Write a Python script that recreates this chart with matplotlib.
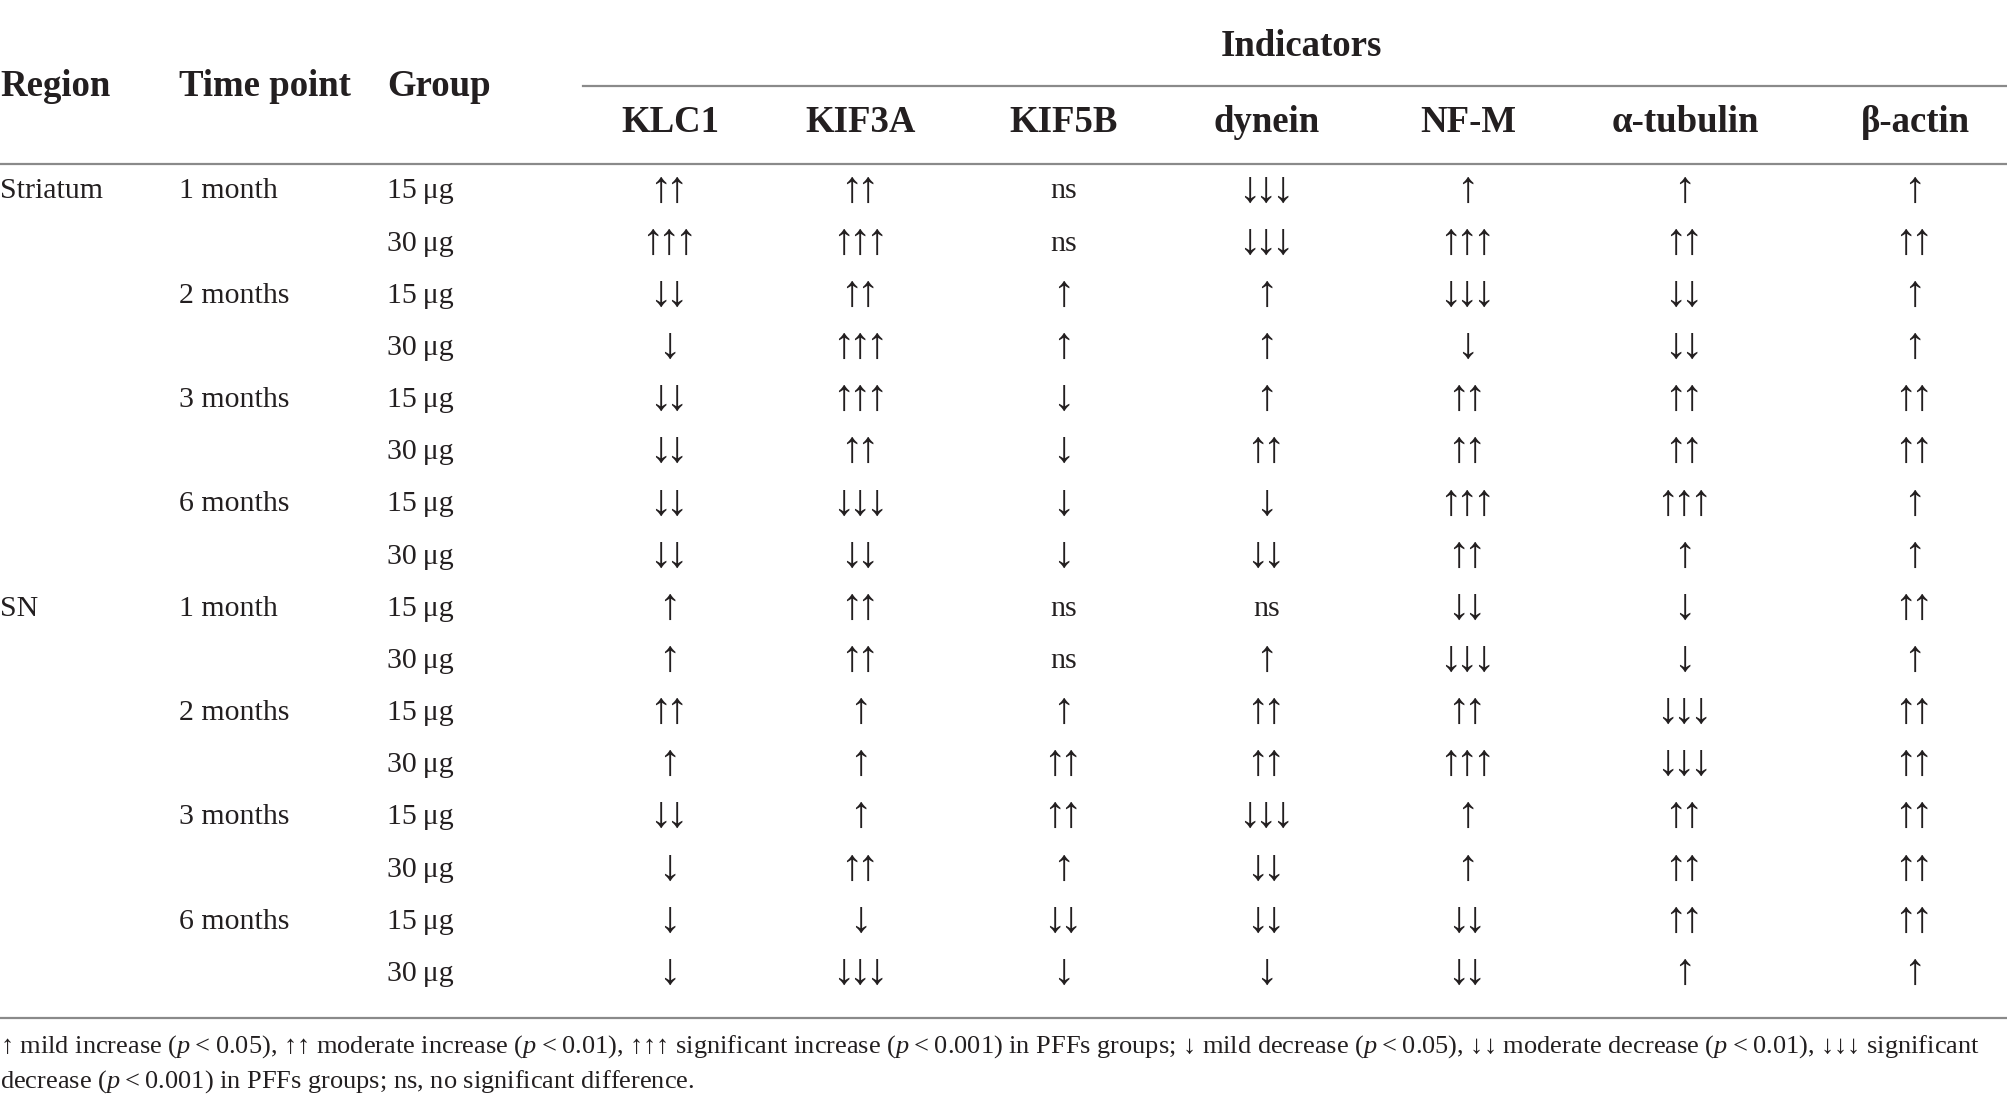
import matplotlib.pyplot as plt

plt.rcParams["font.family"] = ["Liberation Serif", "DejaVu Serif"]
plt.rcParams["mathtext.fontset"] = "custom"
plt.rcParams["mathtext.rm"] = "Liberation Serif"
plt.rcParams["mathtext.it"] = "Liberation Serif:italic"

# ---- table content ---------------------------------------------------------
indicators = ["KLC1", "KIF3A", "KIF5B", "dynein", "NF-M", "α-tubulin", "β-actin"]
regions = ["Striatum", "", "", "", "", "", "", "",
           "SN", "", "", "", "", "", "", ""]
time_points = ["1 month", "", "2 months", "", "3 months", "", "6 months", "",
               "1 month", "", "2 months", "", "3 months", "", "6 months", ""]
groups = ["15\u2009μg", "30\u2009μg"] * 8

klc1 = ["↑↑", "↑↑↑", "↓↓", "↓", "↓↓", "↓↓", "↓↓", "↓↓",
        "↑", "↑", "↑↑", "↑", "↓↓", "↓", "↓", "↓"]
kif3a = ["↑↑", "↑↑↑", "↑↑", "↑↑↑", "↑↑↑", "↑↑", "↓↓↓", "↓↓",
         "↑↑", "↑↑", "↑", "↑", "↑", "↑↑", "↓", "↓↓↓"]
kif5b = ["ns", "ns", "↑", "↑", "↓", "↓", "↓", "↓",
         "ns", "ns", "↑", "↑↑", "↑↑", "↑", "↓↓", "↓"]
dynein = ["↓↓↓", "↓↓↓", "↑", "↑", "↑", "↑↑", "↓", "↓↓",
          "ns", "↑", "↑↑", "↑↑", "↓↓↓", "↓↓", "↓↓", "↓"]
nfm = ["↑", "↑↑↑", "↓↓↓", "↓", "↑↑", "↑↑", "↑↑↑", "↑↑",
       "↓↓", "↓↓↓", "↑↑", "↑↑↑", "↑", "↑", "↓↓", "↓↓"]
a_tubulin = ["↑", "↑↑", "↓↓", "↓↓", "↑↑", "↑↑", "↑↑↑", "↑",
             "↓", "↓", "↓↓↓", "↓↓↓", "↑↑", "↑↑", "↑↑", "↑"]
b_actin = ["↑", "↑↑", "↑", "↑", "↑↑", "↑↑", "↑", "↑",
           "↑↑", "↑", "↑↑", "↑↑", "↑↑", "↑↑", "↑↑", "↑"]
columns = [klc1, kif3a, kif5b, dynein, nfm, a_tubulin, b_actin]

lt = "\u2009<\u2009"
footnote = [
    f"↑ mild increase ($p${lt}0.05), ↑↑ moderate increase ($p${lt}0.01), "
    f"↑↑↑ significant increase ($p${lt}0.001) in PFFs groups; "
    f"↓ mild decrease ($p${lt}0.05), ↓↓ moderate decrease ($p${lt}0.01), "
    f"↓↓↓ significant",
    f"decrease ($p${lt}0.001) in PFFs groups; ns, no significant difference.",
]

# ---- layout (pixel coordinates, origin top-left) --------------------------
W, H = 2008, 1111
col_x = [670, 861, 1064, 1267, 1468, 1685, 1915]
row0, row_step = 191.5, 52.16
FS = 21.5       # body
FS_HEAD = 26.5  # bold header
FS_ARROW = 32
GRAY = "#8a8a8a"
INK = "#231f20"

fig = plt.figure(figsize=(W / 100, H / 100), dpi=100)
ax = fig.add_axes([0, 0, 1, 1])
ax.set_xlim(0, W)
ax.set_ylim(H, 0)
ax.axis("off")


def cell(x, y, s):
    # tall arrows packed tight: mathtext with negative thin space between them
    if s and s[0] in "↑↓":
        ax.text(x - 3, y - 1, "$" + r"\!".join(s) + "$", ha="center", va="center",
                fontsize=FS_ARROW, color=INK)
    else:
        ax.text(x, y, s, ha="center", va="center", fontsize=FS, color=INK)


# rules
ax.plot([583, W], [86, 86], color=GRAY, lw=1.6)
ax.plot([0, W], [164, 164], color=GRAY, lw=1.6)
ax.plot([0, W], [1018, 1018], color=GRAY, lw=1.6)

# header
ax.text(1301, 46, "Indicators", ha="center", va="center",
        fontsize=FS_HEAD, fontweight="bold", color=INK)
for x, lab in zip([0, 179, 387], ["Region", "Time point", "Group"]):
    ax.text(x, 86, lab, ha="left", va="center",
            fontsize=FS_HEAD, fontweight="bold", color=INK)
for x, lab in zip(col_x, indicators):
    ax.text(x, 123, lab, ha="center", va="center",
            fontsize=FS_HEAD, fontweight="bold", color=INK)

# body
for i in range(len(groups)):
    y = row0 + i * row_step
    ax.text(0, y, regions[i], ha="left", va="center", fontsize=FS, color=INK)
    ax.text(179, y, time_points[i], ha="left", va="center", fontsize=FS, color=INK)
    ax.text(387, y, groups[i], ha="left", va="center", fontsize=FS, color=INK)
    for x, col in zip(col_x, columns):
        cell(x, y, col[i])

# footnote
for k, line in enumerate(footnote):
    ax.text(0, 1047 + k * 35, line, ha="left", va="center",
            fontsize=19, color=INK)

fig.savefig("out.png", dpi=100, facecolor="white")
